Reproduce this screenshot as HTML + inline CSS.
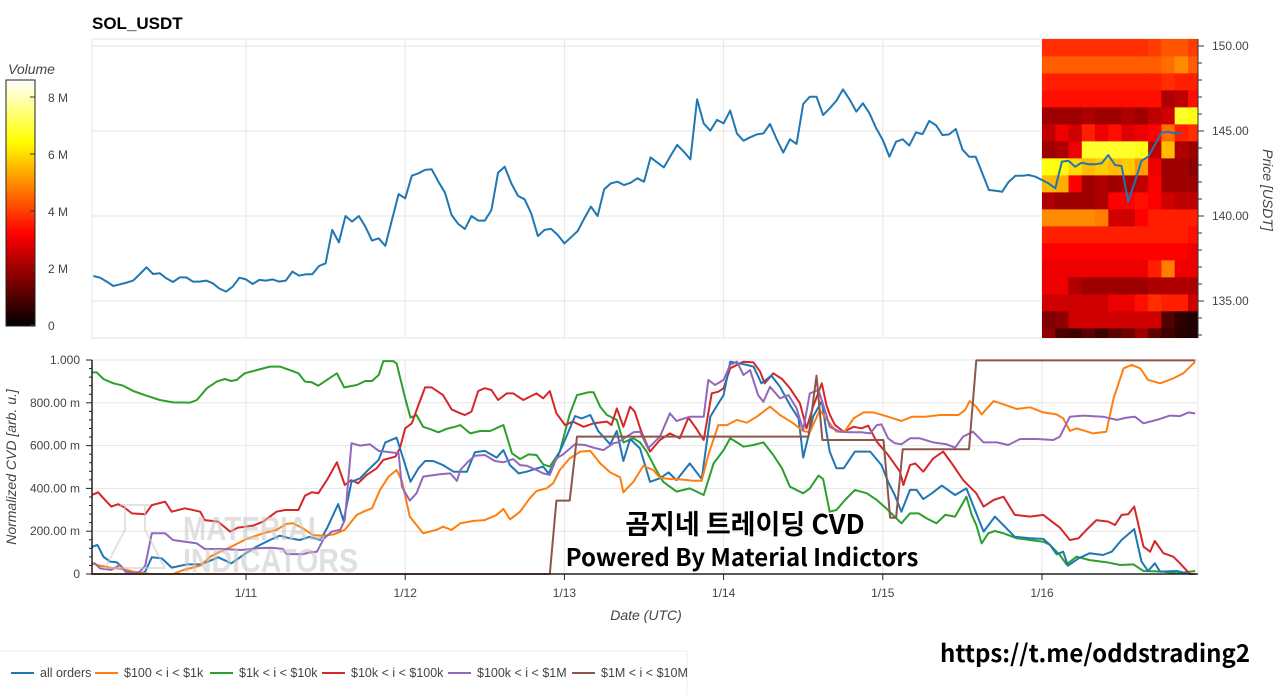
<!DOCTYPE html>
<html><head><meta charset="utf-8">
<style>
html,body{margin:0;padding:0;background:#fff;width:1280px;height:695px;overflow:hidden}
svg{display:block;font-family:"Liberation Sans",sans-serif}
</style></head>
<body>
<svg id="root" width="1280" height="695" viewBox="0 0 1280 695" xmlns="http://www.w3.org/2000/svg">
<defs>
<linearGradient id="hotGrad" x1="0" y1="1" x2="0" y2="0">
<stop offset="0" stop-color="#000"/><stop offset="0.375" stop-color="#f00"/><stop offset="0.75" stop-color="#ff0"/><stop offset="1" stop-color="#fff"/>
</linearGradient>
<clipPath id="topClip"><rect x="92" y="39" width="1106" height="299"/></clipPath>
<clipPath id="botClip"><rect x="92" y="358" width="1106" height="218"/></clipPath>
</defs>
<text x="92" y="29" font-size="17" font-weight="bold" fill="#000">SOL_USDT</text>
<g id="colorbar">
<text x="8" y="74" font-size="14" font-style="italic" fill="#444">Volume</text>
<rect x="6" y="80" width="29" height="246" fill="url(#hotGrad)" stroke="#222" stroke-width="1"/>
</g>
<g id="topPanel"></g>
<g id="botPanel"></g>
<g opacity="0.55">
<path d="M120 505 L150 505 M125 505 L125 530 L105 568 L165 568 L145 530 L145 505" fill="none" stroke="#ccc" stroke-width="2"/>
<text x="183" y="540" font-size="33" font-weight="bold" fill="#c8c8c8" textLength="142" lengthAdjust="spacingAndGlyphs">MATERIAL</text>
<text x="183" y="572" font-size="33" font-weight="bold" fill="#c8c8c8" textLength="175" lengthAdjust="spacingAndGlyphs">INDICATORS</text>
</g>
<text x="745" y="534" font-size="27" font-weight="bold" text-anchor="middle" fill="#000" font-family="'Noto Sans CJK KR','NanumGothic',sans-serif">곰지네 트레이딩 CVD</text>
<text x="742" y="566" font-size="24" font-weight="bold" text-anchor="middle" fill="#000" font-family="'Noto Sans CJK KR','NanumGothic',sans-serif">Powered By Material Indictors</text>
<text x="1250" y="662" font-size="24" font-weight="bold" text-anchor="end" fill="#000" font-family="'Noto Sans CJK KR','NanumGothic',sans-serif">https://t.me/oddstrading2</text>
<g id="legend">
<rect x="-1" y="651" width="688" height="50" fill="#fff" stroke="#eee"/>
</g>
</svg>
<script>
// ---------- DATA ----------
const priceStartHour = 1;
const priceVals = [136.47,136.37,136.14,135.88,135.98,136.08,136.20,136.59,136.98,136.59,136.63,136.33,136.12,136.39,136.39,136.14,136.14,136.20,136.04,135.73,135.55,135.84,136.37,136.27,136.00,136.24,136.20,136.27,136.14,136.20,136.73,136.49,136.57,136.57,137.06,137.22,139.18,138.45,140.00,139.67,140.00,139.37,138.55,138.69,138.24,139.76,141.29,141.04,142.37,142.51,142.71,142.75,142.02,141.37,140.06,139.53,139.24,140.00,139.73,139.73,140.35,142.55,142.90,141.92,141.18,140.98,140.16,138.82,139.18,139.25,138.88,138.39,138.75,139.12,139.86,140.55,140.00,141.57,141.92,142.02,141.82,
141.96,142.22,142.02,143.45,143.14,142.86,143.53,144.18,143.78,143.33,146.86,145.45,145.02,145.65,145.45,146.20,144.86,144.43,144.63,144.80,144.86,145.41,144.51,143.73,144.51,144.24,146.59,147.02,147.02,145.94,146.33,146.78,147.45,146.86,146.14,146.63,146.04,145.16,144.47,143.49,144.37,144.51,144.14,144.92,144.82,145.59,145.35,144.76,144.80,145.12,143.92,143.49,143.49,142.51,141.53,141.49,141.43,142.02,142.37,142.37,142.41,142.31,142.12,141.92,141.63,143.20,143.25,142.90,143.14,143.04,143.04,143.10,143.59,143.00,142.94,140.84,142.02,143.25,143.49,144.18,144.90,144.96,144.86,144.86];
const priceTicks = [135,140,145,150];
const dayTicks = [24,48,72,96,120,144];
const dayLabels = ["1/11","1/12","1/13","1/14","1/15","1/16"];
const cvdTicks = [0,0.2,0.4,0.6,0.8,1.0];
const cvdLabels = ["0","200.00 m","400.00 m","600.00 m","800.00 m","1.000"];
const volTicks = [0,2,4,6,8];
const volLabels = ["0","2 M","4 M","6 M","8 M"];
const heatStartHour = 144, heatColHours = 2;
const heatRowTopPrice = 150.39;
const heatVals = [
[3.8,3.8,3.8,3.8,3.8,3.8,3.8,3.8,4.0,4.3,4.3,4.0],
[4.4,4.4,4.4,4.4,4.4,4.4,4.4,4.4,4.4,4.6,5.0,4.4],
[3.6,3.6,3.6,3.6,3.6,3.6,3.6,3.6,3.6,3.8,3.6,3.6],
[3.4,3.4,3.4,3.4,3.4,3.4,3.4,3.4,3.4,2.2,2.4,3.4],
[2.0,2.0,2.0,2.2,2.0,2.0,2.2,2.0,2.4,2.6,6.8,6.6],
[2.4,3.0,2.6,3.6,3.0,3.4,2.8,3.0,3.2,4.6,3.6,3.8],
[2.0,2.2,3.0,6.8,6.8,6.8,6.8,6.6,2.4,5.6,2.2,2.0],
[6.6,6.4,6.0,5.6,5.8,5.6,5.8,5.2,3.0,2.0,2.0,1.8],
[5.6,5.4,3.2,2.0,2.2,2.0,2.2,2.4,3.2,2.0,2.0,2.0],
[2.2,2.0,2.0,2.0,2.2,3.2,3.2,3.4,3.2,2.6,2.4,2.4],
[5.0,5.0,5.0,5.0,4.8,2.6,2.6,3.2,3.6,3.6,3.6,3.6],
[3.6,3.6,3.6,3.6,3.6,3.6,3.6,3.6,3.6,3.6,3.6,3.4],
[3.2,3.2,3.2,3.2,3.2,3.2,3.2,3.2,3.2,3.2,3.2,3.0],
[3.0,3.0,3.0,3.0,3.0,3.0,3.0,3.0,3.6,4.8,3.0,3.0],
[3.0,3.0,2.2,2.0,2.0,2.0,2.0,2.0,2.2,2.2,2.2,2.2],
[2.6,2.6,2.6,2.6,2.6,3.0,3.0,3.4,3.8,3.6,3.6,2.6],
[1.6,1.8,2.6,2.6,2.6,2.6,2.6,2.6,2.6,1.0,0.6,0.4],
[1.8,1.0,0.8,1.2,0.8,1.2,1.4,2.0,1.2,0.8,0.5,0.4]];

const greenHours=[0.5,1.5,2.5,4.0,5.5,7.0,9.0,11.0,13.0,15.6,16.6,18.1,19.6,20.8,21.8,22.6,23.8,25.6,27.6,29.1,30.6,31.9,32.9,33.9,34.9,36.2,37.7,38.8,40.7,42.0,43.0,44.0,44.7,46.2,46.7,48.0,48.8,49.7,50.7,51.7,53.0,54.2,55.5,56.3,57.8,59.3,60.8,62.8,64.1,65.3,66.6,67.8,68.8,69.8,71.3,72.8,73.9,75.6,76.4,77.4,78.4,79.9,80.9,82.4,83.4,84.4,85.7,86.9,88.9,90.9,93.0,94.5,96.0,97.0,98.0,99.0,100.5,102.0,103.5,104.8,106.0,108.0,109.0,110.3,111.0,112.0,113.0,114.3,115.8,117.6,119.1,120.6,122.8,124.1,125.4,126.6,128.1,129.4,130.9,132.6,133.4,134.1,134.9,135.9,136.9,138.2,140.2,142.2,144.2,145.2,146.7,147.7,149.2,151.2,153.7,155.8,157.8,159.3,162.3,164.3,167.1];
const greenVals=[0.942,0.942,0.911,0.891,0.880,0.855,0.833,0.813,0.802,0.801,0.813,0.868,0.899,0.911,0.902,0.907,0.938,0.953,0.969,0.969,0.953,0.938,0.899,0.896,0.880,0.907,0.938,0.872,0.883,0.902,0.902,0.930,0.995,0.995,0.984,0.821,0.731,0.743,0.688,0.678,0.662,0.678,0.688,0.696,0.657,0.668,0.668,0.696,0.564,0.537,0.559,0.556,0.512,0.502,0.572,0.746,0.836,0.849,0.849,0.782,0.743,0.720,0.615,0.634,0.615,0.572,0.494,0.431,0.385,0.400,0.369,0.517,0.579,0.634,0.615,0.595,0.603,0.615,0.556,0.494,0.408,0.377,0.400,0.460,0.444,0.291,0.299,0.346,0.393,0.377,0.346,0.304,0.237,0.283,0.283,0.260,0.237,0.276,0.268,0.361,0.276,0.229,0.143,0.190,0.201,0.190,0.167,0.159,0.151,0.136,0.089,0.045,0.081,0.065,0.055,0.042,0.045,0.014,0.011,0.003,0.014];

const redHours=[0.5,1.7,2.5,3.7,4.7,5.5,6.8,8.8,9.8,11.8,12.8,14.8,17.1,17.8,19.8,21.6,22.8,25.1,26.6,28.6,29.9,31.9,32.9,33.9,34.9,36.2,37.7,38.9,39.9,40.9,42.2,43.7,44.7,46.5,47.2,48.0,49.0,50.0,51.0,52.0,53.7,55.0,56.3,57.0,58.0,59.0,60.0,61.0,62.0,63.3,64.3,65.8,67.8,68.8,69.8,70.8,72.1,73.3,74.9,76.4,78.4,79.1,79.9,80.9,81.9,82.6,83.6,84.9,86.4,87.9,89.4,90.7,91.7,93.0,94.2,95.2,96.0,97.0,99.0,100.5,101.5,102.2,103.5,104.8,106.0,107.5,108.5,109.5,110.8,111.5,112.0,112.8,114.1,115.6,116.8,117.8,119.1,120.8,122.6,123.1,124.1,124.9,126.1,127.6,129.1,130.4,132.1,134.1,135.2,136.7,138.2,139.9,142.2,144.2,145.5,146.7,148.2,149.5,150.7,152.2,154.0,155.0,156.0,157.0,157.9,159.3,160.3,161.0,162.3,163.8,164.8,166.3,167.1];
const redVals=[0.366,0.382,0.354,0.315,0.326,0.315,0.283,0.279,0.322,0.338,0.291,0.307,0.291,0.252,0.245,0.198,0.217,0.226,0.245,0.291,0.299,0.299,0.366,0.382,0.377,0.439,0.522,0.416,0.439,0.424,0.463,0.494,0.533,0.548,0.587,0.681,0.704,0.790,0.872,0.872,0.836,0.769,0.751,0.743,0.759,0.855,0.868,0.860,0.813,0.844,0.844,0.813,0.844,0.821,0.855,0.751,0.696,0.712,0.688,0.704,0.712,0.696,0.774,0.688,0.782,0.759,0.665,0.572,0.626,0.657,0.634,0.731,0.688,0.626,0.844,0.852,0.868,0.961,0.992,0.989,0.946,0.891,0.938,0.911,0.868,0.798,0.681,0.782,0.891,0.790,0.746,0.696,0.665,0.688,0.681,0.693,0.618,0.556,0.478,0.416,0.509,0.517,0.478,0.540,0.572,0.517,0.439,0.377,0.315,0.346,0.361,0.276,0.268,0.276,0.245,0.217,0.159,0.167,0.206,0.252,0.245,0.229,0.276,0.279,0.315,0.128,0.104,0.154,0.097,0.081,0.050,0.0,0.0];

const allHours=[0.5,1.6,2.5,3.5,4.5,5.5,6.5,8.0,8.8,9.8,11.3,12.8,15.1,17.1,18.3,19.8,21.8,23.6,25.6,27.6,29.1,30.6,32.1,33.6,35.2,36.2,37.9,38.7,39.9,41.2,42.4,44.0,45.0,46.7,47.7,48.8,50.0,51.0,52.2,53.7,55.3,56.3,57.3,58.5,60.0,61.8,62.8,63.8,65.1,66.3,67.6,68.8,69.6,70.8,72.3,73.6,74.6,75.9,77.1,78.9,79.9,80.9,81.9,83.4,84.9,86.4,87.7,88.9,90.9,92.7,94.0,95.0,96.0,97.0,99.5,100.5,101.7,103.2,104.5,106.0,107.3,108.0,109.5,110.8,111.5,112.0,113.0,114.1,115.8,118.1,119.8,120.8,121.8,122.8,124.1,125.1,126.1,127.4,128.9,130.9,132.6,134.1,135.2,136.9,138.4,139.9,142.2,144.2,145.2,146.2,147.2,147.9,149.5,151.2,153.2,154.5,156.0,157.9,159.0,160.0,161.0,161.8,164.3,166.3];
const allVals=[0.123,0.136,0.081,0.058,0.055,0.026,0.003,0.0,0.011,0.078,0.073,0.030,0.045,0.045,0.058,0.078,0.050,0.089,0.128,0.159,0.179,0.167,0.159,0.174,0.159,0.213,0.327,0.248,0.431,0.447,0.486,0.533,0.615,0.637,0.540,0.431,0.494,0.528,0.528,0.509,0.478,0.478,0.478,0.569,0.575,0.544,0.579,0.509,0.470,0.478,0.491,0.502,0.470,0.537,0.642,0.738,0.727,0.743,0.668,0.606,0.668,0.528,0.631,0.587,0.431,0.447,0.475,0.439,0.517,0.444,0.735,0.787,0.836,0.992,0.977,0.969,0.891,0.927,0.875,0.790,0.727,0.544,0.735,0.808,0.665,0.572,0.494,0.494,0.572,0.572,0.509,0.431,0.369,0.291,0.393,0.393,0.350,0.377,0.413,0.369,0.400,0.283,0.198,0.268,0.221,0.174,0.167,0.164,0.136,0.092,0.104,0.039,0.073,0.097,0.089,0.104,0.159,0.210,0.058,0.014,0.050,0.011,0.014,0.0];

const orangeHours=[0.5,1.5,3.5,5.5,7.0,9.5,13.0,14.6,16.1,17.1,18.6,20.1,21.8,24.1,26.6,28.6,30.1,31.1,32.6,34.1,35.7,37.2,38.9,40.7,41.7,43.0,44.2,45.5,46.7,47.5,48.7,50.7,52.7,53.7,55.0,56.3,58.3,60.0,61.8,62.8,63.8,65.3,66.8,67.8,69.3,70.3,71.3,72.8,74.4,75.9,77.4,78.9,80.4,80.9,82.4,83.9,85.4,86.4,87.9,89.4,91.4,92.7,93.7,95.2,96.5,98.0,99.5,101.0,103.0,104.5,106.5,108.0,109.0,110.5,112.0,113.0,114.3,115.6,117.1,118.6,120.8,122.8,124.4,126.4,128.6,131.4,132.4,133.1,134.1,134.9,136.7,138.2,140.2,142.2,144.2,146.2,147.2,148.2,149.2,151.7,153.7,154.8,156.3,157.5,158.8,160.0,161.8,163.8,165.3,167.1];
const orangeVals=[0.055,0.042,0.030,0.023,0.011,0.0,0.0,0.019,0.031,0.039,0.081,0.104,0.128,0.164,0.190,0.206,0.234,0.237,0.213,0.182,0.179,0.185,0.206,0.276,0.291,0.307,0.393,0.455,0.486,0.435,0.268,0.190,0.206,0.221,0.206,0.237,0.248,0.252,0.276,0.304,0.255,0.291,0.354,0.388,0.400,0.424,0.486,0.540,0.572,0.575,0.517,0.475,0.452,0.382,0.431,0.505,0.486,0.450,0.444,0.442,0.436,0.436,0.556,0.696,0.696,0.720,0.707,0.735,0.782,0.743,0.704,0.668,0.662,0.766,0.704,0.665,0.668,0.727,0.755,0.755,0.735,0.715,0.735,0.735,0.743,0.743,0.766,0.808,0.782,0.746,0.808,0.793,0.771,0.779,0.755,0.746,0.727,0.668,0.681,0.657,0.665,0.821,0.961,0.977,0.961,0.907,0.891,0.914,0.938,0.992];

const purpleHours=[0.5,1.2,2.0,3.7,5.0,5.8,7.3,8.0,8.8,9.8,11.8,13.0,16.6,17.8,20.6,23.3,25.6,27.9,29.6,30.1,32.6,33.6,34.7,35.7,36.9,38.2,38.9,39.9,41.2,42.7,44.0,45.7,47.0,47.5,48.7,49.7,50.7,53.2,54.8,55.8,56.3,57.5,58.5,60.0,61.5,62.8,64.3,65.3,66.3,67.8,68.8,69.8,70.8,71.8,73.6,75.1,76.4,77.9,79.4,80.1,81.4,82.4,83.4,84.6,86.4,87.9,88.9,90.9,93.0,93.7,94.7,96.0,97.0,98.0,99.0,100.0,101.2,102.0,103.0,104.5,105.8,107.0,108.0,109.0,110.3,111.5,112.0,113.5,115.1,116.8,118.1,119.1,119.8,120.8,121.8,122.8,124.1,125.6,127.6,129.6,130.9,132.1,133.6,135.2,137.2,138.9,140.7,143.2,145.7,146.7,148.2,150.2,153.2,155.3,156.8,158.0,159.3,161.3,163.3,164.8,166.1,167.1];
const purpleVals=[0.045,0.050,0.026,0.019,0.042,0.011,0.003,0.011,0.039,0.190,0.190,0.159,0.143,0.117,0.117,0.112,0.120,0.123,0.117,0.093,0.093,0.101,0.104,0.164,0.198,0.206,0.252,0.611,0.600,0.606,0.575,0.569,0.564,0.408,0.343,0.377,0.455,0.466,0.470,0.435,0.486,0.525,0.553,0.556,0.528,0.522,0.537,0.509,0.506,0.486,0.470,0.463,0.540,0.559,0.606,0.603,0.590,0.579,0.611,0.615,0.642,0.662,0.665,0.587,0.642,0.751,0.715,0.735,0.735,0.907,0.883,0.907,0.977,0.992,0.930,0.953,0.836,0.805,0.875,0.821,0.836,0.774,0.673,0.844,0.860,0.743,0.688,0.665,0.662,0.662,0.657,0.696,0.699,0.634,0.611,0.606,0.634,0.634,0.615,0.606,0.590,0.642,0.665,0.615,0.615,0.603,0.631,0.631,0.626,0.642,0.735,0.740,0.735,0.720,0.731,0.735,0.704,0.720,0.740,0.738,0.755,0.750];

const brownHours=[0.5,69.8,70.8,72.8,73.9,108.8,110.0,110.9,120.1,121.1,122.0,123.0,133.0,134.1,167.1];
const brownVals=[0,0,0.343,0.343,0.642,0.642,0.927,0.626,0.626,0.263,0.263,0.583,0.583,0.998,0.998];

const seriesNames=["all orders","$100 < i < $1k","$1k < i < $10k","$10k < i < $100k","$100k < i < $1M","$1M < i < $10M"];
const seriesColors=["#1f77b4","#ff7f0e","#2ca02c","#d62728","#9467bd","#8c564b"];

// ---------- SCALES ----------
const X0=92,X1=1198;
const xh = h => 246 + (h-24)/24*159.2;
const yPrice = p => 46 + (150-p)*17;
const yCvd = v => 574 - v*214;
const yVol = m => 325 - m*28.5;
const NS="http://www.w3.org/2000/svg";
function mk(tag,attrs,parent){const e=document.createElementNS(NS,tag);for(const k in attrs)e.setAttribute(k,attrs[k]);parent.appendChild(e);return e;}
function hot(m){const t=Math.max(0,Math.min(1,m/8.6));const r=Math.min(1,t/0.375),g=Math.max(0,Math.min(1,(t-0.375)/0.375)),b=Math.max(0,Math.min(1,(t-0.75)/0.25));return `rgb(${Math.round(r*255)},${Math.round(g*255)},${Math.round(b*255)})`;}

// ---------- TOP PANEL ----------
const topG=document.getElementById('topPanel');
const tg=mk('rect',{x:X0,y:39,width:X1-X0,height:299,fill:'none',stroke:'#e6e6e6'},topG);


priceTicks.forEach(p=>{const l=mk('line',{x1:X0,x2:X1,y1:yPrice(p),y2:yPrice(p),stroke:'#e6e6e6'},topG);

});
dayTicks.forEach(d=>{const l=mk('line',{x1:xh(d),x2:xh(d),y1:39,y2:338,stroke:'#e6e6e6'},topG);

});
const hm=mk('g',{'clip-path':'url(#topClip)'},topG);


heatVals.forEach((row,ri)=>{row.forEach((v,ci)=>{
const x0=xh(heatStartHour+ci*heatColHours),x1=xh(heatStartHour+(ci+1)*heatColHours);
const yTop=yPrice(heatRowTopPrice-ri), yBot=yPrice(heatRowTopPrice-ri-1);
const y0=ri===0?30:yTop, y1=ri===heatVals.length-1?345:yBot;
const r=mk('rect',{x:x0,y:y0,width:x1-x0+0.5,height:y1-y0+0.5,fill:hot(v)},hm);

});});
let pd='';priceVals.forEach((p,i)=>{pd+=(i?'L':'M')+xh(priceStartHour+i).toFixed(1)+' '+yPrice(p).toFixed(1);});
const pl=mk('path',{d:pd,fill:'none',stroke:'#1f77b4','stroke-width':2,'stroke-linejoin':'round','clip-path':'url(#topClip)'},topG);


const ra=mk('line',{x1:X1,x2:X1,y1:39,y2:338,stroke:'#333'},topG);


for(let p=133;p<=150;p++){const major=priceTicks.includes(p);mk('line',{x1:X1,x2:X1+(major?6:4),y1:yPrice(p),y2:yPrice(p),stroke:'#333'},topG);}
priceTicks.forEach(p=>{const t=mk('text',{x:1212,y:yPrice(p)+4,'font-size':12,fill:'#444'},topG);t.textContent=p.toFixed(2);

});
const pt=mk('text',{x:1263,y:190,'font-size':14,'font-style':'italic',fill:'#444','text-anchor':'middle',transform:'rotate(90 1263 190)'},topG);pt.textContent='Price [USDT]';



// colorbar ticks
const cb=document.getElementById('colorbar');
volTicks.forEach((m,i)=>{mk('line',{x1:30,x2:35,y1:yVol(m),y2:yVol(m),stroke:'#333'},cb);
const t=mk('text',{x:48,y:yVol(m)+5,'font-size':12,fill:'#444'},cb);t.textContent=volLabels[i];

});

// ---------- BOTTOM PANEL ----------
const botG=document.getElementById('botPanel');
const bf=mk('line',{x1:X0,x2:X1,y1:360,y2:360,stroke:'#e6e6e6'},botG);


mk('line',{x1:X1,x2:X1,y1:360,y2:574,stroke:'#e6e6e6'},botG);
cvdTicks.forEach(v=>{if(v>0){const l=mk('line',{x1:X0,x2:X1,y1:yCvd(v),y2:yCvd(v),stroke:'#e6e6e6'},botG);

}});
dayTicks.forEach(d=>{const l=mk('line',{x1:xh(d),x2:xh(d),y1:360,y2:574,stroke:'#e6e6e6'},botG);

});
const sets=[[allHours,allVals],[orangeHours,orangeVals],[greenHours,greenVals],[redHours,redVals],[purpleHours,purpleVals],[brownHours,brownVals]];
const lineNames=['all-orders-line','cvd-100-1k-line','cvd-1k-10k-line','cvd-10k-100k-line','cvd-100k-1m-line','cvd-1m-10m-line'];
const drawOrder=[2,3,0,1,4,5];
drawOrder.forEach(si=>{const hs=sets[si][0],vs=sets[si][1];let d='';hs.forEach((h,i)=>{d+=(i?'L':'M')+xh(h).toFixed(1)+' '+yCvd(vs[i]).toFixed(1);});
const p=mk('path',{d:d,fill:'none',stroke:seriesColors[si],'stroke-width':2,'stroke-linejoin':'round','clip-path':'url(#botClip)'},botG);

});
const la=mk('line',{x1:X0,x2:X0,y1:360,y2:575,stroke:'#222','stroke-width':1.5},botG);


for(let k=0;k<=25;k++){const v=k*0.04;const major=k%5===0;mk('line',{x1:X0-(major?6:3),x2:X0,y1:yCvd(v),y2:yCvd(v),stroke:'#222'},botG);}
cvdTicks.forEach((v,i)=>{const t=mk('text',{x:80,y:yCvd(v)+4,'font-size':12,fill:'#444','text-anchor':'end'},botG);t.textContent=cvdLabels[i];

});
const xa=mk('line',{x1:X0,x2:X1,y1:574,y2:574,stroke:'#222','stroke-width':1.5},botG);


dayTicks.forEach((d,i)=>{mk('line',{x1:xh(d),x2:xh(d),y1:574,y2:580,stroke:'#222'},botG);
const t=mk('text',{x:xh(d),y:597,'font-size':12,fill:'#444','text-anchor':'middle'},botG);t.textContent=dayLabels[i];

});
const xt=mk('text',{x:646,y:620,'font-size':14,'font-style':'italic',fill:'#444','text-anchor':'middle'},botG);xt.textContent='Date (UTC)';


const yt=mk('text',{x:16,y:467,'font-size':14,'font-style':'italic',fill:'#444','text-anchor':'middle',transform:'rotate(-90 16 467)'},botG);yt.textContent='Normalized CVD [arb. u.]';



// ---------- LEGEND ----------
const lg=document.getElementById('legend');
const legX=[11,95,210,322,448,572];
seriesNames.forEach((n,i)=>{const g=mk('g',{},lg);


mk('line',{x1:legX[i],x2:legX[i]+23,y1:673,y2:673,stroke:seriesColors[i],'stroke-width':2},g);
const t=mk('text',{x:legX[i]+29,y:677,'font-size':12.5,fill:'#444'},g);t.textContent=n;});
</script>
</body></html>
